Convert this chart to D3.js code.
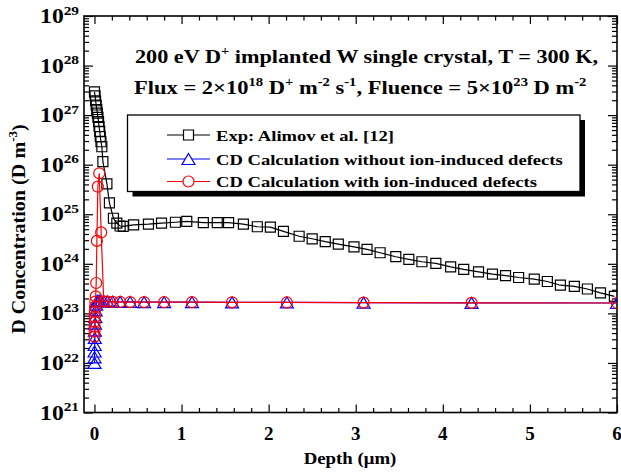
<!DOCTYPE html>
<html>
<head>
<meta charset="utf-8">
<script src="https://cdn.jsdelivr.net/npm/d3@7"></script>
<style>
body { margin: 0; background: #fff; }
text { font-family: "Liberation Serif", "Times New Roman", serif; font-weight: bold; fill: #000; }
</style>
</head>
<body>
<div id="chart"></div>
<script>
// experimental profile (Alimov et al.)
var expDepth = [0, 0.007, 0.013, 0.02, 0.027, 0.033, 0.04, 0.047, 0.053, 0.06,
    0.067, 0.075, 0.085, 0.097, 0.143, 0.172, 0.218, 0.257, 0.295, 0.33,
    0.45, 0.62, 0.77, 0.93, 1.06, 1.25, 1.41, 1.54, 1.71, 1.87,
    2.02, 2.17, 2.35, 2.50, 2.65, 2.80, 2.98, 3.13, 3.28, 3.46,
    3.61, 3.76, 3.92, 4.09, 4.24, 4.41, 4.57, 4.72, 4.87, 5.05,
    5.20, 5.35, 5.51, 5.66, 5.81, 5.97];
var expConc = [2.95e27, 2.45e27, 1.95e27, 1.6e27, 1.3e27, 1.1e27, 9.0e26, 7.4e26, 5.9e26, 4.7e26,
    3.7e26, 2.9e26, 2.3e26, 1.15e26, 4.1e25, 1.7e25, 8.3e24, 6.6e24, 5.8e24, 5.7e24,
    6.1e24, 6.3e24, 6.6e24, 6.9e24, 7.2e24, 6.8e24, 6.8e24, 6.8e24, 6.3e24, 5.6e24,
    5.5e24, 4.5e24, 3.6e24, 3.2e24, 2.8e24, 2.5e24, 2.2e24, 1.96e24, 1.67e24, 1.39e24,
    1.23e24, 1.1e24, 1.02e24, 8.7e23, 7.7e23, 6.9e23, 6.2e23, 5.8e23, 5.3e23, 4.9e23,
    4.4e23, 3.7e23, 3.5e23, 3.1e23, 2.6e23, 2.2e23];

// cluster dynamics grid (same for both calculations)
var cdDepth = [0.0009, 0.0013, 0.0018, 0.0026, 0.0036, 0.005, 0.007, 0.010, 0.014, 0.020,
    0.028, 0.039, 0.055, 0.077, 0.107, 0.15, 0.21, 0.295, 0.41, 0.57,
    0.80, 1.12, 1.58, 2.21, 3.09, 4.33, 6.0];
var noDefConc = [1.0e22, 1.3e22, 1.7e22, 2.3e22, 3.2e22, 4.5e22, 6.2e22, 8.5e22, 1.15e23, 1.5e23,
    1.75e23, 1.8e23, 1.8e23, 1.78e23, 1.76e23, 1.74e23, 1.72e23, 1.71e23, 1.70e23, 1.69e23,
    1.68e23, 1.68e23, 1.67e23, 1.66e23, 1.65e23, 1.63e23, 1.62e23];
var withDefConc = [3.4e22, 4.3e22, 5.4e22, 6.8e22, 8.5e22, 1.07e23, 1.35e23, 1.73e23, 2.2e23, 4.1e23,
    2.9e24, 3.6e25, 6.7e25, 4.3e24, 1.75e23, 1.72e23, 1.70e23, 1.70e23, 1.69e23, 1.69e23,
    1.68e23, 1.68e23, 1.67e23, 1.66e23, 1.65e23, 1.63e23, 1.62e23];

var xTicks = [0, 1, 2, 3, 4, 5, 6];
var yExps = [21, 22, 23, 24, 25, 26, 27, 28, 29];

var legendNames = ["Exp: Alimov et al. [12]",
    "CD Calculation without ion-induced defects",
    "CD Calculation with ion-induced defects"];

var W = 621, H = 472;
var plot = { left: 84, top: 16, right: 617, bottom: 412.5 };

var svg = d3.select('#chart')
    .append('svg')
    .attr('width', W)
    .attr('height', H);

var x = d3.scaleLinear().domain([-0.12, 6]).range([plot.left, plot.right]);
var y = d3.scaleLog().domain([1e21, 1e29]).range([plot.bottom, plot.top]);

// rich text with superscripts: parts = [[text, isSup], ...]
function rich(sel, parts, fs) {
    var up = false;
    parts.forEach(function (p) {
        var t = sel.append('tspan').text(p[0]);
        if (p[1]) {
            t.attr('font-size', fs * 0.65).attr('dy', up ? 0 : -fs * 0.42);
            up = true;
        } else {
            t.attr('font-size', fs).attr('dy', up ? fs * 0.42 : 0);
            up = false;
        }
    });
}

// text stretched horizontally (the original figure's lettering is wider than Times)
function wideText(parent, tf, sx, anchor) {
    return parent.append('g')
        .attr('transform', tf + ' scale(' + sx + ',1)')
        .append('text')
        .attr('text-anchor', anchor || 'start');
}

// minor ticks
var xMinor = d3.range(0, 6.01, 0.2).filter(function (d) { return Math.abs(d - Math.round(d)) > 0.01; });
var yMinor = [];
for (var e = 21; e < 29; e++) {
    for (var m = 2; m <= 9; m++) yMinor.push(m * Math.pow(10, e));
}

var axes = svg.append('g');
axes.append('g').attr('transform', 'translate(0,' + plot.bottom + ')')
    .call(d3.axisBottom(x).tickValues(xTicks).tickSize(-8).tickFormat(''));
axes.append('g').attr('transform', 'translate(0,' + plot.bottom + ')')
    .call(d3.axisBottom(x).tickValues(xMinor).tickSize(-4.5).tickFormat(''));
axes.append('g').attr('transform', 'translate(0,' + plot.top + ')')
    .call(d3.axisTop(x).tickValues(xTicks).tickSize(-8).tickFormat(''));
axes.append('g').attr('transform', 'translate(0,' + plot.top + ')')
    .call(d3.axisTop(x).tickValues(xMinor).tickSize(-4.5).tickFormat(''));

var yMajor = yExps.map(function (d) { return Math.pow(10, d); });
axes.append('g').attr('transform', 'translate(' + plot.left + ',0)')
    .call(d3.axisLeft(y).tickValues(yMajor).tickSize(-9).tickFormat(''));
axes.append('g').attr('transform', 'translate(' + plot.left + ',0)')
    .call(d3.axisLeft(y).tickValues(yMinor).tickSize(-5).tickFormat(''));
axes.append('g').attr('transform', 'translate(' + plot.right + ',0)')
    .call(d3.axisRight(y).tickValues(yMajor).tickSize(-9).tickFormat(''));
axes.append('g').attr('transform', 'translate(' + plot.right + ',0)')
    .call(d3.axisRight(y).tickValues(yMinor).tickSize(-5).tickFormat(''));
axes.selectAll('.domain').remove();
axes.selectAll('line').attr('stroke', '#000').attr('stroke-width', 1.2);

svg.append('rect')
    .attr('x', plot.left).attr('y', plot.top)
    .attr('width', plot.right - plot.left).attr('height', plot.bottom - plot.top)
    .attr('fill', 'none').attr('stroke', '#000').attr('stroke-width', 1.6);

// tick labels
xTicks.forEach(function (d) {
    svg.append('text')
        .attr('x', x(d)).attr('y', 440)
        .attr('text-anchor', 'middle')
        .attr('font-size', 19)
        .text(d);
});
yExps.forEach(function (d) {
    var t = wideText(svg, 'translate(79,' + (y(Math.pow(10, d)) + 7) + ')', 1.18, 'end');
    rich(t, [['10', false], [String(d), true]], 20);
});

// axis titles
wideText(svg, 'translate(350,464)', 1.14, 'middle')
    .attr('font-size', 16.5)
    .text('Depth (\u03bcm)');

var yl = wideText(svg, 'translate(25,229) rotate(-90)', 1.12, 'middle');
rich(yl, [['D Concentration (D m', false], ['-3', true], [')', false]], 18);

// data
svg.append('clipPath').attr('id', 'clip')
    .append('rect')
    .attr('x', plot.left).attr('y', plot.top)
    .attr('width', plot.right - plot.left).attr('height', plot.bottom - plot.top);

var g = svg.append('g').attr('clip-path', 'url(#clip)');

var line = d3.line()
    .x(function (d) { return x(d[0]); })
    .y(function (d) { return y(d[1]); });

function squarePath(s) {
    return 'M' + (-s / 2) + ',' + (-s / 2) + 'h' + s + 'v' + s + 'h' + (-s) + 'Z';
}
function trianglePath(w, h) {
    return 'M0,' + (-h / 2) + 'L' + (w / 2) + ',' + (h / 2) + 'L' + (-w / 2) + ',' + (h / 2) + 'Z';
}
function circlePath(r) {
    return 'M' + r + ',0A' + r + ',' + r + ' 0 1,1 ' + (-r) + ',0A' + r + ',' + r + ' 0 1,1 ' + r + ',0Z';
}

var series = [
    { depth: expDepth, conc: expConc, color: '#000000', marker: squarePath(10) },
    { depth: cdDepth, conc: noDefConc, color: '#0000ff', marker: trianglePath(13, 11) },
    { depth: cdDepth, conc: withDefConc, color: '#ff0000', marker: circlePath(5.5) }
];

series.forEach(function (s) {
    var pts = s.depth.map(function (d, i) { return [d, s.conc[i]]; });
    g.append('path')
        .datum(pts)
        .attr('d', line)
        .attr('fill', 'none')
        .attr('stroke', s.color)
        .attr('stroke-width', 1.2);
    g.selectAll(null)
        .data(pts)
        .enter()
        .append('path')
        .attr('transform', function (d) { return 'translate(' + x(d[0]) + ',' + y(d[1]) + ')'; })
        .attr('d', s.marker)
        .attr('fill', 'none')
        .attr('stroke', s.color)
        .attr('stroke-width', 1.2);
});

// legend
var lg = { x: 127.5, y: 115, w: 452.5, h: 76.5 };
svg.append('rect')
    .attr('x', lg.x + 5).attr('y', lg.y + 5)
    .attr('width', lg.w).attr('height', lg.h)
    .attr('fill', '#000');
svg.append('rect')
    .attr('x', lg.x).attr('y', lg.y)
    .attr('width', lg.w).attr('height', lg.h)
    .attr('fill', '#fff').attr('stroke', '#000').attr('stroke-width', 1.3);

var rowY = [135, 159, 181.5];
series.forEach(function (s, i) {
    svg.append('line')
        .attr('x1', 167).attr('x2', 210)
        .attr('y1', rowY[i]).attr('y2', rowY[i])
        .attr('stroke', s.color).attr('stroke-width', 1.2);
    svg.append('path')
        .attr('transform', 'translate(188.5,' + rowY[i] + ')')
        .attr('d', s.marker)
        .attr('fill', '#fff')
        .attr('stroke', s.color)
        .attr('stroke-width', 1.2);
    wideText(svg, 'translate(216,' + (rowY[i] + 5.5) + ')', 1.24)
        .attr('font-size', 15)
        .text(legendNames[i]);
});

// title block
var t1 = wideText(svg, 'translate(135,63)', 1.14);
rich(t1, [['200 eV D', false], ['+', true], [' implanted W single crystal, T = 300 K,', false]], 19.5);
var t2 = wideText(svg, 'translate(134,94)', 1.155);
rich(t2, [['Flux = 2\u00d710', false], ['18', true], [' D', false], ['+', true], [' m', false], ['-2', true],
    [' s', false], ['-1', true], [', Fluence = 5\u00d710', false], ['23', true], [' D m', false], ['-2', true]], 19.5);
</script>
</body>
</html>
